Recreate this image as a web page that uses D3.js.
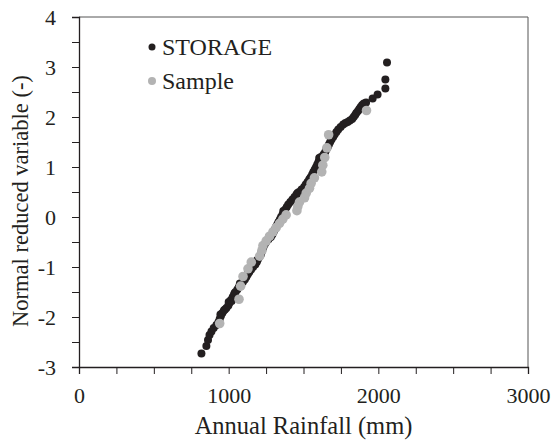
<!DOCTYPE html>
<html>
<head>
<meta charset="utf-8">
<script src="https://cdn.jsdelivr.net/npm/d3@7"></script>
<style>
  body { margin: 0; background: #fff; }
  svg text { fill: #231f20; }
</style>
</head>
<body>
<svg id="chart" width="556" height="446"></svg>
<script>
// STORAGE series: annual rainfall (mm) and normal reduced variate
const storageRain = [818, 851, 862, 872, 885, 900, 918, 932, 940, 948, 945, 958, 968, 975, 985, 998, 1000, 1005,
  1015, 1020, 1027, 1036, 1040, 1046, 1058, 1068, 1075, 1082, 1095, 1108, 1118, 1127, 1130, 1138, 1150, 1163,
  1178, 1188, 1185, 1195, 1205, 1215, 1220, 1226, 1232, 1240, 1250, 1265, 1270, 1282, 1292, 1300, 1308, 1316,
  1325, 1333, 1342, 1350, 1360, 1365, 1368, 1378, 1388, 1398, 1412, 1426, 1440, 1453, 1460, 1470, 1487, 1504,
  1515, 1527, 1538, 1545, 1550, 1558, 1566, 1575, 1584, 1592, 1600, 1605, 1608, 1616, 1634, 1645, 1653, 1662,
  1670, 1678, 1687, 1690, 1698, 1708, 1720, 1732, 1748, 1765, 1780, 1795, 1810, 1825, 1835, 1845, 1853, 1864,
  1873, 1882, 1892, 1903, 1918, 1962, 1995, 2047, 2047, 2058];
const storageZ = [-2.73, -2.58, -2.46, -2.36, -2.29, -2.22, -2.16, -2.10, -2.04, -1.98, -1.95, -1.92, -1.87, -1.85, -1.82, -1.77, -1.70, -1.72,
  -1.66, -1.68, -1.60, -1.55, -1.52, -1.50, -1.45, -1.40, -1.33, -1.35, -1.30, -1.25, -1.20, -1.15, -1.12, -1.10, -1.05, -1.00,
  -0.95, -0.90, -0.88, -0.85, -0.80, -0.75, -0.70, -0.65, -0.60, -0.55, -0.50, -0.45, -0.42, -0.40, -0.35, -0.30, -0.25, -0.20,
  -0.15, -0.10, -0.05, 0.00, 0.05, 0.12, 0.10, 0.15, 0.20, 0.25, 0.30, 0.35, 0.40, 0.45, 0.48, 0.50, 0.55, 0.60,
  0.65, 0.70, 0.75, 0.78, 0.80, 0.85, 0.90, 0.95, 1.00, 1.05, 1.10, 1.18, 1.15, 1.20, 1.25, 1.30, 1.35, 1.40,
  1.45, 1.50, 1.55, 1.60, 1.60, 1.65, 1.70, 1.75, 1.80, 1.85, 1.88, 1.90, 1.93, 1.96, 2.00, 2.04, 2.08, 2.12,
  2.16, 2.20, 2.24, 2.27, 2.29, 2.37, 2.45, 2.57, 2.75, 3.09];

// Sample series (30 years)
const sampleRain = [940, 1069, 1080, 1096, 1129, 1151, 1207, 1222, 1229, 1251, 1273, 1296, 1318, 1340, 1362,
  1384, 1456, 1462, 1473, 1507, 1518, 1540, 1551, 1573, 1622, 1629, 1642, 1656, 1668, 1921];
const sampleZ = [-2.13, -1.645, -1.383, -1.19, -1.036, -0.903, -0.783, -0.674, -0.573, -0.477, -0.385, -0.297, -0.21, -0.126, -0.042,
  0.042, 0.126, 0.21, 0.297, 0.385, 0.477, 0.573, 0.674, 0.783, 0.903, 1.036, 1.19, 1.383, 1.645, 2.13];

const xTicks = d3.range(0, 3001, 250);
const yTicks = d3.range(-3, 4.01, 0.5);
const seriesNames = ["STORAGE", "Sample"];

const width = 556, height = 446;
const margin = {top: 17, right: 28, bottom: 79, left: 79};
const serif = '"Liberation Serif", "Times New Roman", Times, serif';

const svg = d3.select("#chart");

const x = d3.scaleLinear().domain([0, 3000]).range([margin.left, width - margin.right]);
const y = d3.scaleLinear().domain([-3, 4]).range([height - margin.bottom, margin.top]);

// frame (top and right)
svg.append("path")
  .attr("d", `M${x(0)},${y(4)}H${x(3000)}V${y(-3)}`)
  .attr("fill", "none")
  .attr("stroke", "#555")
  .attr("stroke-width", 1);

const xAxis = d3.axisBottom(x)
  .tickValues(xTicks)
  .tickSize(7)
  .tickPadding(13)
  .tickFormat(d => d % 1000 === 0 ? String(d) : "");

const yAxis = d3.axisLeft(y)
  .tickValues(yTicks)
  .tickSize(7)
  .tickPadding(16)
  .tickFormat(d => Number.isInteger(d) ? String(d) : "");

const gx = svg.append("g")
  .attr("transform", `translate(0,${y(-3)})`)
  .call(xAxis);
const gy = svg.append("g")
  .attr("transform", `translate(${x(0)},0)`)
  .call(yAxis);

[gx, gy].forEach(g => {
  g.attr("font-family", serif).attr("font-size", 22);
  g.select(".domain").attr("stroke", "#231f20").attr("stroke-width", 1.3);
  g.selectAll(".tick line").attr("stroke", "#231f20").attr("stroke-width", 1);
  g.selectAll(".tick text").attr("fill", "#231f20");
});

// points
const storage = storageRain.map((r, i) => ({r: r, z: storageZ[i]}));
const sample = sampleRain.map((r, i) => ({r: r, z: sampleZ[i]}));

svg.append("g").selectAll("circle")
  .data(storage)
  .enter()
  .append("circle")
  .attr("cx", d => x(d.r))
  .attr("cy", d => y(d.z))
  .attr("r", 4)
  .attr("fill", "#231f20");

svg.append("g").selectAll("circle")
  .data(sample)
  .enter()
  .append("circle")
  .attr("cx", d => x(d.r))
  .attr("cy", d => y(d.z))
  .attr("r", 4.8)
  .attr("fill", "#b3b3b3");

// legend
const legendColors = ["#231f20", "#b3b3b3"];
const legend = svg.append("g")
  .attr("font-family", serif)
  .attr("font-size", 24);
seriesNames.forEach((name, i) => {
  legend.append("circle")
    .attr("cx", 152)
    .attr("cy", 47 + i * 34)
    .attr("r", i === 0 ? 3.5 : 4)
    .attr("fill", legendColors[i]);
  legend.append("text")
    .attr("x", 162)
    .attr("y", 55 + i * 34)
    .text(name);
});

// axis titles
svg.append("text")
  .attr("x", (x(0) + x(3000)) / 2)
  .attr("y", 434)
  .attr("text-anchor", "middle")
  .attr("font-family", serif)
  .attr("font-size", 24.5)
  .text("Annual Rainfall (mm)");

svg.append("text")
  .attr("transform", "translate(28,201) rotate(-90)")
  .attr("text-anchor", "middle")
  .attr("font-family", serif)
  .attr("font-size", 22.5)
  .text("Normal reduced variable (-)");
</script>
</body>
</html>
